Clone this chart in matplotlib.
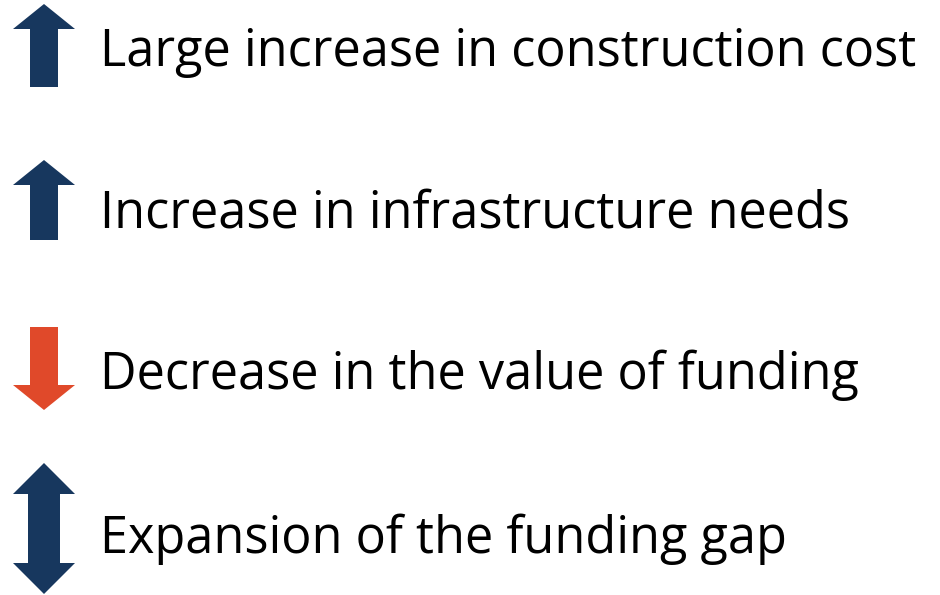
"""Arrow list infographic: cost / needs / funding / gap."""
import matplotlib
matplotlib.use("Agg")
import matplotlib.pyplot as plt
from matplotlib.patches import Polygon

labels = [
    "Large increase in construction cost",
    "Increase in infrastructure needs",
    "Decrease in the value of funding",
    "Expansion of the funding gap",
]
directions = ["up", "up", "down", "both"]
colors = ["#17375E", "#17375E", "#E0492A", "#17375E"]

W, H = 940, 595
baselines = [66, 227, 389, 553]
# arrow extents (top, bottom) in px, per row
arrow_span = [(4, 87), (160, 240), (327, 410), (463, 594)]
arrow_cx = 44
head_half = 31
shaft_half = 14
head_len = 25


def arrow_poly(kind, top, bottom):
    cx = arrow_cx
    if kind == "up":
        hb = top + head_len
        return [(cx, top), (cx + head_half, hb), (cx + shaft_half, hb),
                (cx + shaft_half, bottom), (cx - shaft_half, bottom),
                (cx - shaft_half, hb), (cx - head_half, hb)]
    if kind == "down":
        hb = bottom - head_len
        return [(cx, bottom), (cx + head_half, hb), (cx + shaft_half, hb),
                (cx + shaft_half, top), (cx - shaft_half, top),
                (cx - shaft_half, hb), (cx - head_half, hb)]
    ht = top + 31
    hb = bottom - 31
    return [(cx, top), (cx + head_half, ht), (cx + shaft_half + 2, ht),
            (cx + shaft_half + 2, hb), (cx + head_half, hb), (cx, bottom),
            (cx - head_half, hb), (cx - shaft_half - 2, hb),
            (cx - shaft_half - 2, ht), (cx - head_half, ht)]


fig = plt.figure(figsize=(9.4, 5.95), dpi=100)
ax = fig.add_axes([0, 0, 1, 1])
ax.set_xlim(0, W)
ax.set_ylim(H, 0)
ax.axis("off")

for lab, kind, col, base, (top, bot) in zip(labels, directions, colors,
                                            baselines, arrow_span):
    ax.add_patch(Polygon(arrow_poly(kind, top, bot), closed=True,
                         facecolor=col, edgecolor="none"))
    ax.text(100, base, lab, fontsize=36.4, family="Open Sans",
            color="black", va="baseline", ha="left")

fig.savefig("out.png", dpi=100, facecolor="white")
